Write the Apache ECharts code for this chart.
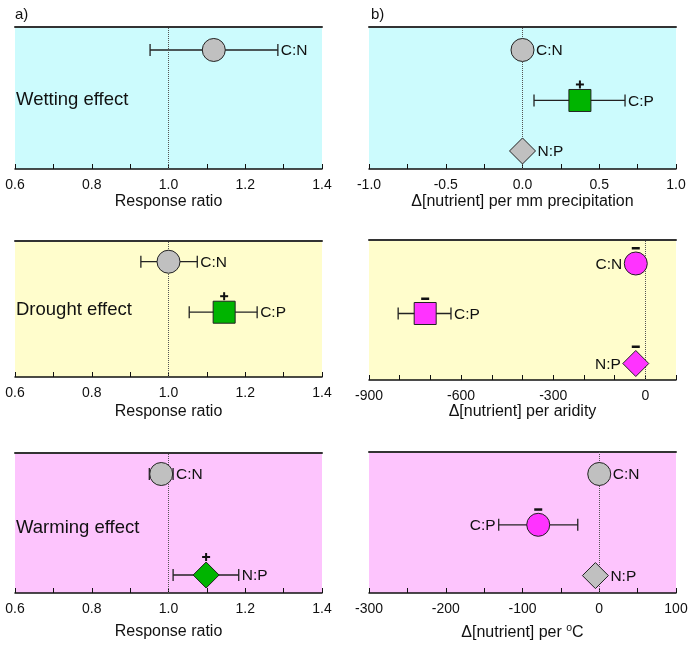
<!DOCTYPE html>
<html>
<head>
<meta charset="utf-8">
<script src="https://cdn.jsdelivr.net/npm/echarts@6/dist/echarts.min.js"></script>
<style>
html, body { margin: 0; padding: 0; background: #fff; }
#chart { width: 691px; height: 646px; }
</style>
</head>
<body>
<div id="chart"></div>
<script>
// each row: [ratio, mean, low, high, significance sign]
var wettingRR = [['C:N', 1.118, 0.952, 1.285, '']];
var wettingPrecip = [['C:N', 0, null, null, ''], ['C:P', 0.374, 0.075, 0.668, '+'], ['N:P', 0, null, null, '']];
var droughtRR = [['C:N', 1.0, 0.928, 1.075, ''], ['C:P', 1.145, 1.054, 1.231, '+']];
var droughtArid = [['C:N', -31, null, null, '−'], ['C:P', -717, -805, -633, '−'], ['N:P', -31, null, null, '−']];
var warmingRR = [['C:N', 0.981, 0.95, 1.012, ''], ['N:P', 1.098, 1.012, 1.183, '+']];
var warmingTemp = [['C:N', 0, null, null, ''], ['C:P', -79.5, -131, -28, '−'], ['N:P', -5, null, null, '']];

var effectNames = ['Wetting effect', 'Drought effect', 'Warming effect'];
var rrName = 'Response ratio';
var driverNames = ['Δ[nutrient] per mm precipitation', 'Δ[nutrient] per aridity', 'Δ[nutrient] per {sup|o}C'];

// ratio -> row on the y scale (top to bottom)
var rowVal = { 'C:N': 3, 'C:P': 2, 'N:P': 1 };

var FONT = '"Liberation Sans", Arial, sans-serif';
var signColor = { '': '#c0c0c0', '+': '#00b400', '−': '#ff33ff' };
var symSize = { circle: 23, rect: 22, diamond: 26 };
var bgColors = ['#ccfbfd', '#fffdcc', '#fdc4fd'];

var panels = [
  { rows: wettingRR, shapes: ['circle'], sides: ['right'], grid: { left: 15, top: 27, height: 142 }, y: [0.643, 3.455],
    x: [0.6, 1.4, 0.2], ref: 1, name: rrName, nameGap: 25, dec: 1, bg: 0 },
  { rows: wettingPrecip, shapes: ['circle', 'rect', 'diamond'], sides: ['right', 'right', 'right'], grid: { left: 369, top: 27, height: 142 }, y: [0.643, 3.455],
    x: [-1, 1, 0.5], ref: 0, name: driverNames[0], nameGap: 25, dec: 1, bg: 0 },
  { rows: droughtRR, shapes: ['circle', 'rect'], sides: ['right', 'right'], grid: { left: 15, top: 241, height: 136 }, y: [0.717, 3.41],
    x: [0.6, 1.4, 0.2], ref: 1, name: rrName, nameGap: 27, dec: 1, bg: 1 },
  { rows: droughtArid, shapes: ['circle', 'rect', 'diamond'], sides: ['left', 'right', 'left'], grid: { left: 369, top: 240, height: 140 }, y: [0.67, 3.47],
    x: [-900, 100, 100], ref: 0, name: driverNames[1], nameGap: 24, every: 300, bg: 1 },
  { rows: warmingRR, shapes: ['circle', 'diamond'], sides: ['right', 'right'], grid: { left: 15, top: 453, height: 140 }, y: [0.644, 3.416],
    x: [0.6, 1.4, 0.2], ref: 1, name: rrName, nameGap: 31, dec: 1, bg: 2 },
  { rows: warmingTemp, shapes: ['circle', 'circle', 'diamond'], sides: ['right', 'left', 'right'], grid: { left: 369, top: 452, height: 141 }, y: [0.657, 3.433],
    x: [-300, 100, 100], ref: 0, name: driverNames[2], nameGap: 30, bg: 2 }
];

function makeRender(p) {
  return function (params, api) {
    var i = params.dataIndex;
    var r = p.rows[i];
    var yv = rowVal[r[0]];
    var pm = api.coord([r[1], yv]);
    var half = symSize[p.shapes[i]] / 2;
    var kids = [];
    var ls = { stroke: '#222', lineWidth: 1.3 };
    var hasBar = r[2] !== null;
    var pl, ph;
    if (hasBar) {
      pl = api.coord([r[2], yv]);
      ph = api.coord([r[3], yv]);
      kids.push({ type: 'line', shape: { x1: pl[0], y1: pm[1], x2: ph[0], y2: pm[1] }, style: ls });
      kids.push({ type: 'line', shape: { x1: pl[0], y1: pm[1] - 6, x2: pl[0], y2: pm[1] + 6 }, style: ls });
      kids.push({ type: 'line', shape: { x1: ph[0], y1: pm[1] - 6, x2: ph[0], y2: pm[1] + 6 }, style: ls });
    }
    var tx, align;
    if (p.sides[i] === 'right') {
      tx = Math.max(hasBar ? ph[0] + 3 : -1e9, pm[0] + half + 2);
      align = 'left';
    } else {
      tx = Math.min(hasBar ? pl[0] - 3 : 1e9, pm[0] - half - 2);
      align = 'right';
    }
    kids.push({ type: 'text', style: { text: r[0], x: tx, y: pm[1] + 1, fill: '#111', fontSize: 15.5, fontFamily: FONT, align: align, verticalAlign: 'middle' } });
    if (r[4] === '+') {
      var cy = pm[1] - half - 5;
      var ps = { stroke: '#111', lineWidth: 2 };
      kids.push({ type: 'line', shape: { x1: pm[0] - 4, y1: cy, x2: pm[0] + 4, y2: cy }, style: ps });
      kids.push({ type: 'line', shape: { x1: pm[0], y1: cy - 4, x2: pm[0], y2: cy + 4 }, style: ps });
    } else if (r[4] === '−') {
      kids.push({ type: 'rect', shape: { x: pm[0] - 4, y: pm[1] - half - 5, width: 8, height: 2.5 }, style: { fill: '#111' } });
    }
    return { type: 'group', children: kids };
  };
}

var grids = [], xAxes = [], yAxes = [], series = [];
panels.forEach(function (p, k) {
  grids.push({ left: p.grid.left, top: p.grid.top, width: 307, height: p.grid.height, show: true,
    backgroundColor: bgColors[p.bg], borderWidth: 0 });
  xAxes.push({
    type: 'value', gridIndex: k, min: p.x[0], max: p.x[1], interval: p.x[2],
    name: p.name, nameLocation: 'middle', nameGap: p.nameGap,
    nameTextStyle: { fontSize: 16, color: '#111', fontFamily: FONT, rich: { sup: { fontSize: 10.5, verticalAlign: 'top', padding: [0, 0, 8, 0], color: '#111', fontFamily: FONT } } },
    axisLine: { show: true, onZero: false, lineStyle: { color: '#111', width: 1.5 } },
    axisTick: { show: true, inside: true, length: 5, lineStyle: { color: '#111', width: 1 } },
    minorTick: { show: !p.every, splitNumber: 2, length: 5, lineStyle: { color: '#111', width: 1 } },
    splitLine: { show: false },
    axisLabel: {
      margin: 9, fontSize: 14, color: '#111', fontFamily: FONT, showMinLabel: true, showMaxLabel: true,
      formatter: function (v) {
        if (p.every) return (Math.round(v) % p.every === 0) ? String(Math.round(v)) : '';
        if (p.dec) return v.toFixed(p.dec);
        return String(Math.round(v));
      }
    }
  });
  yAxes.push({ type: 'value', gridIndex: k, min: p.y[0], max: p.y[1], show: false });
});
// top border line of every panel
panels.forEach(function (p, k) {
  xAxes.push({ type: 'value', gridIndex: k, position: 'top', min: p.x[0], max: p.x[1],
    axisLine: { show: true, lineStyle: { color: '#333', width: 2 } },
    axisTick: { show: false }, axisLabel: { show: false }, splitLine: { show: false } });
});

panels.forEach(function (p, k) {
  series.push({
    type: 'custom', xAxisIndex: k, yAxisIndex: k, clip: false, silent: true, z: 2,
    renderItem: makeRender(p),
    encode: { x: 0, y: 1 },
    data: p.rows.map(function (r) { return [r[1], rowVal[r[0]]]; }),
    markLine: {
      silent: true, symbol: ['none', 'none'], label: { show: false },
      lineStyle: { type: 'dotted', color: '#555', width: 1 },
      data: [{ xAxis: p.ref }]
    }
  });
  series.push({
    type: 'scatter', xAxisIndex: k, yAxisIndex: k, z: 5, silent: true,
    data: p.rows.map(function (r, i) {
      return { value: [r[1], rowVal[r[0]]], symbol: p.shapes[i], symbolSize: symSize[p.shapes[i]],
        itemStyle: { color: signColor[r[4]], borderColor: '#222', borderWidth: 1, opacity: 1 } };
    })
  });
});

var graphics = [
  { type: 'text', left: 15, top: 7, style: { text: 'a)', fontSize: 15, fill: '#111', fontFamily: FONT } },
  { type: 'text', left: 371, top: 7, style: { text: 'b)', fontSize: 15, fill: '#111', fontFamily: FONT } }
];
var effectY = [100, 310, 528];
effectNames.forEach(function (t, k) {
  graphics.push({ type: 'text', left: 16, top: effectY[k] - 10, style: { text: t, fontSize: 18.5, fill: '#111', fontFamily: FONT } });
});

var myChart = echarts.init(document.getElementById('chart'));
myChart.setOption({
  animation: false,
  backgroundColor: '#fff',
  grid: grids,
  xAxis: xAxes,
  yAxis: yAxes,
  graphic: graphics,
  series: series
});
</script>
</body>
</html>
